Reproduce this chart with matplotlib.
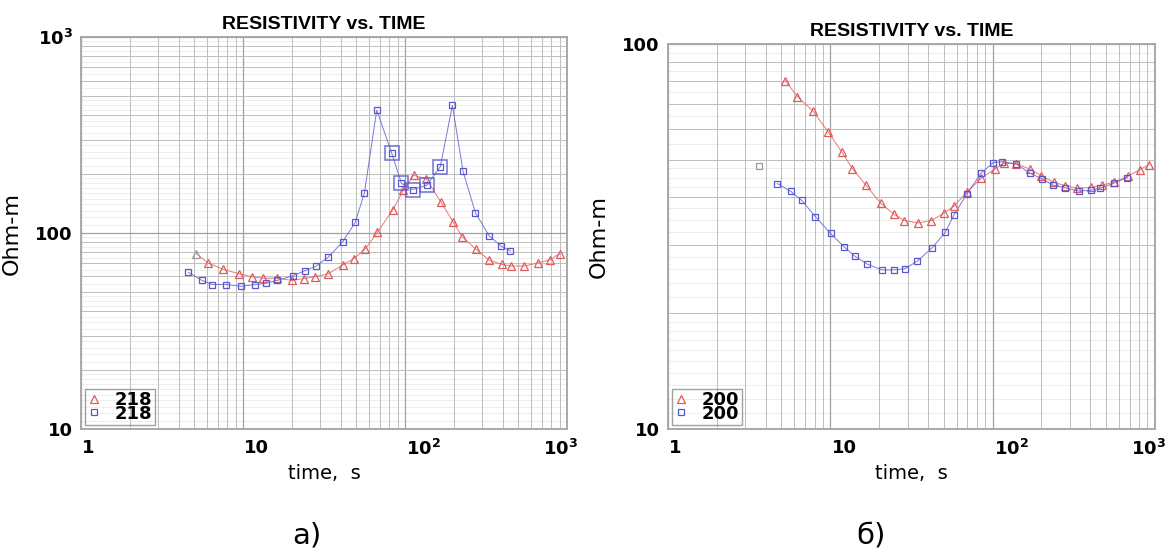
import numpy as np
import matplotlib
matplotlib.use("Agg")
import matplotlib.pyplot as plt
from matplotlib.lines import Line2D
from matplotlib.transforms import blended_transform_factory

# ---------------- data, panel a) (sounding 218) ----------------
a_red_t = [5.13, 6.1, 7.56, 9.45, 11.4, 13.3, 16.1, 20.1, 23.8, 27.8, 33.6, 41.2,
           48.4, 56.6, 67.5, 84.0, 97.6, 113, 135, 166, 198, 225, 274, 331, 397,
           449, 545, 662, 788, 901]
a_red_r = [78.6, 70.3, 65.2, 62.0, 59.8, 58.8, 58.8, 57.3, 58.6, 59.8, 62.0, 68.7,
           74.1, 82.7, 100.8, 131.4, 165, 197, 189, 144.5, 114, 95.7, 82.7, 72.6,
           69.2, 67.9, 67.9, 70.3, 73.2, 78.6]
a_blue_t = [4.6, 5.56, 6.46, 7.85, 9.72, 11.9, 13.8, 16.3, 20.3, 24.1, 28.1, 33.5,
            41.2, 49.3, 56.1, 66.9, 82.8, 95.0, 111.5, 136, 165, 196, 228, 272, 330,
            391, 447]
a_blue_r = [63.0, 57.4, 54.6, 54.6, 53.5, 54.6, 55.4, 57.4, 60.5, 64.2, 67.6, 75.2,
            90.2, 113.5, 160, 424, 255, 179, 166.6, 175, 218, 448, 206, 126.8, 96.9,
            85.7, 81.1]
a_blue_marked = [16, 17, 18, 19, 20]   # points drawn with the big frame
a_label = "218"

# ---------------- data, panel б) (sounding 200) ----------------
b_red_t = [5.28, 6.28, 7.82, 9.68, 11.8, 13.7, 16.6, 20.4, 24.6, 28.6, 34.8, 42.0,
           49.9, 58.2, 69.8, 85.1, 103, 117, 140, 170, 200, 239, 279, 333, 403,
           473, 561, 684, 812, 922]
b_red_r = [80.3, 73.0, 67.0, 59.2, 52.4, 47.4, 43.0, 38.6, 36.2, 34.8, 34.3, 34.8,
           36.3, 38.0, 41.3, 44.8, 47.3, 49.0, 48.9, 47.3, 45.5, 43.7, 42.9, 42.2,
           42.4, 43.0, 43.8, 45.4, 47.2, 48.6]
b_blue_t = [4.71, 5.72, 6.65, 8.11, 10.05, 12.2, 14.2, 16.9, 20.8, 24.8, 28.9, 34.4,
            42.6, 51.1, 57.7, 69.2, 85.1, 101, 115, 140, 170, 203, 235, 281, 341,
            403, 460, 558, 678]
b_blue_r = [43.4, 41.4, 39.3, 35.6, 32.2, 29.7, 28.1, 26.8, 25.9, 25.9, 26.1, 27.3,
            29.6, 32.4, 35.9, 40.7, 46.2, 49.2, 49.5, 48.8, 46.2, 44.6, 43.0, 42.3,
            41.5, 41.7, 42.2, 43.5, 45.0]
b_gray_t = [3.63]
b_gray_r = [48.3]
b_label = "200"

RED = "#e05a5a"
BLUE = "#5858cc"
GRAY = "#9a9a9a"

TITLE_FONT = ["Liberation Sans Narrow", "Liberation Sans", "DejaVu Sans"]

fig = plt.figure(figsize=(11.76, 5.55), dpi=100)


def style_axes(ax, ymin, ymax, yticks, ylabels):
    ax.set_xscale("log")
    ax.set_yscale("log")
    ax.set_xlim(1, 1000)
    ax.set_ylim(ymin, ymax)

    # very light sub-grid between the usual minor lines
    fine = list(np.arange(1.1, 2.0, 0.1)) + [2.2, 2.4, 2.6, 2.8, 3.25, 3.5, 3.75,
                                              4.25, 4.5, 4.75, 5.5, 6.5, 7.5, 8.5, 9.5]
    dec = ymin
    while dec < ymax:
        for k in fine:
            ax.axhline(k * dec, color="#ebebeb", lw=0.6, zorder=0)
        dec *= 10

    ax.grid(True, which="major", color="#a0a0a0", lw=0.9, zorder=1)
    ax.grid(True, which="minor", color="#bdbdbd", lw=0.7, zorder=1)
    ax.set_axisbelow(True)
    ax.tick_params(which="both", length=0)
    ax.tick_params(axis="y", pad=6)

    ax.set_yticks(yticks)
    ax.set_yticklabels(ylabels, fontsize=13, fontweight="bold")
    ax.yaxis.set_minor_formatter(plt.NullFormatter())

    ax.set_xticks([1, 10, 100, 1000])
    ax.set_xticklabels([])
    ax.xaxis.set_minor_formatter(plt.NullFormatter())
    trans = blended_transform_factory(ax.transData, ax.transAxes)
    xlabels = ["1", "10", r"$\mathbf{10^2}$", r"$\mathbf{10^3}$"]
    for xv, lab in zip([1, 10, 100, 700], xlabels):
        ax.text(xv * 1.02, -0.025, lab, transform=trans, ha="left", va="top",
                fontsize=13, fontweight="bold")

    for sp in ax.spines.values():
        sp.set_color("#a8a8a8")
        sp.set_linewidth(1.4)

    ax.set_title("RESISTIVITY vs. TIME", family=TITLE_FONT, fontweight="bold",
                 fontsize=14, pad=6)
    ax.set_ylabel("Ohm-m", fontsize=16)
    ax.yaxis.set_label_coords(-0.121, 0.5)
    ax.set_xlabel("time,  s", fontsize=14)
    ax.xaxis.set_label_coords(0.5, -0.09)


def add_legend(ax, label):
    handles = [
        Line2D([], [], ls="none", marker="^", ms=5.5, mfc="none", mec=RED, mew=0.9),
        Line2D([], [], ls="none", marker="s", ms=4.5, mfc="none", mec=BLUE, mew=0.9),
    ]
    leg = ax.legend(handles, [label, label], loc="lower left",
                    prop={"weight": "bold", "size": 13}, frameon=True,
                    fancybox=False, edgecolor="#8a8a8a",
                    handlelength=0.7, handletextpad=0.8, labelspacing=-0.25,
                    borderpad=0.15, borderaxespad=0.2)
    leg.get_frame().set_facecolor("none")
    leg.get_frame().set_linewidth(1.0)


# ---------------- panel a) ----------------
ax1 = fig.add_axes([0.0689, 0.227, 0.4133, 0.7063])
style_axes(ax1, 10, 1000, [10, 100, 1000], ["10", "100", r"$\mathbf{10^3}$"])
ax1.plot(a_red_t, a_red_r, "-", color=RED, lw=0.7, alpha=0.8, zorder=3)
ax1.plot(a_red_t[1:], a_red_r[1:], "^", ms=6, mfc="none", mec=RED, mew=0.9, zorder=4)
ax1.plot(a_red_t[:1], a_red_r[:1], "^", ms=6, mfc="none", mec=GRAY, mew=0.9, zorder=4)
ax1.plot(a_blue_t, a_blue_r, "-", color=BLUE, lw=0.7, alpha=0.8, zorder=3)
ax1.plot(a_blue_t, a_blue_r, "s", ms=4.5, mfc="none", mec=BLUE, mew=0.9, zorder=4)
ax1.plot([a_blue_t[i] for i in a_blue_marked], [a_blue_r[i] for i in a_blue_marked],
         "s", ms=9.5, mfc="none", mec=BLUE, mew=1.1, alpha=0.85, zorder=4)
add_legend(ax1, a_label)

# ---------------- panel б) ----------------
ax2 = fig.add_axes([0.568, 0.227, 0.414, 0.6937])
style_axes(ax2, 10, 100, [10, 100], ["10", "100"])
ax2.plot(b_red_t, b_red_r, "-", color=RED, lw=0.7, alpha=0.8, zorder=3)
ax2.plot(b_red_t, b_red_r, "^", ms=6, mfc="none", mec=RED, mew=0.9, zorder=4)
ax2.plot(b_blue_t, b_blue_r, "-", color=BLUE, lw=0.7, alpha=0.8, zorder=3)
ax2.plot(b_blue_t, b_blue_r, "s", ms=4.5, mfc="none", mec=BLUE, mew=0.9, zorder=4)
ax2.plot(b_gray_t, b_gray_r, "s", ms=4.5, mfc="none", mec=GRAY, mew=0.9, zorder=4)
add_legend(ax2, b_label)

# captions under the panels
fig.text(0.261, 0.01, "а)", fontsize=21, ha="center", va="bottom")
fig.text(0.741, 0.01, "б)", fontsize=21, ha="center", va="bottom")

fig.savefig("out.png", dpi=100)
